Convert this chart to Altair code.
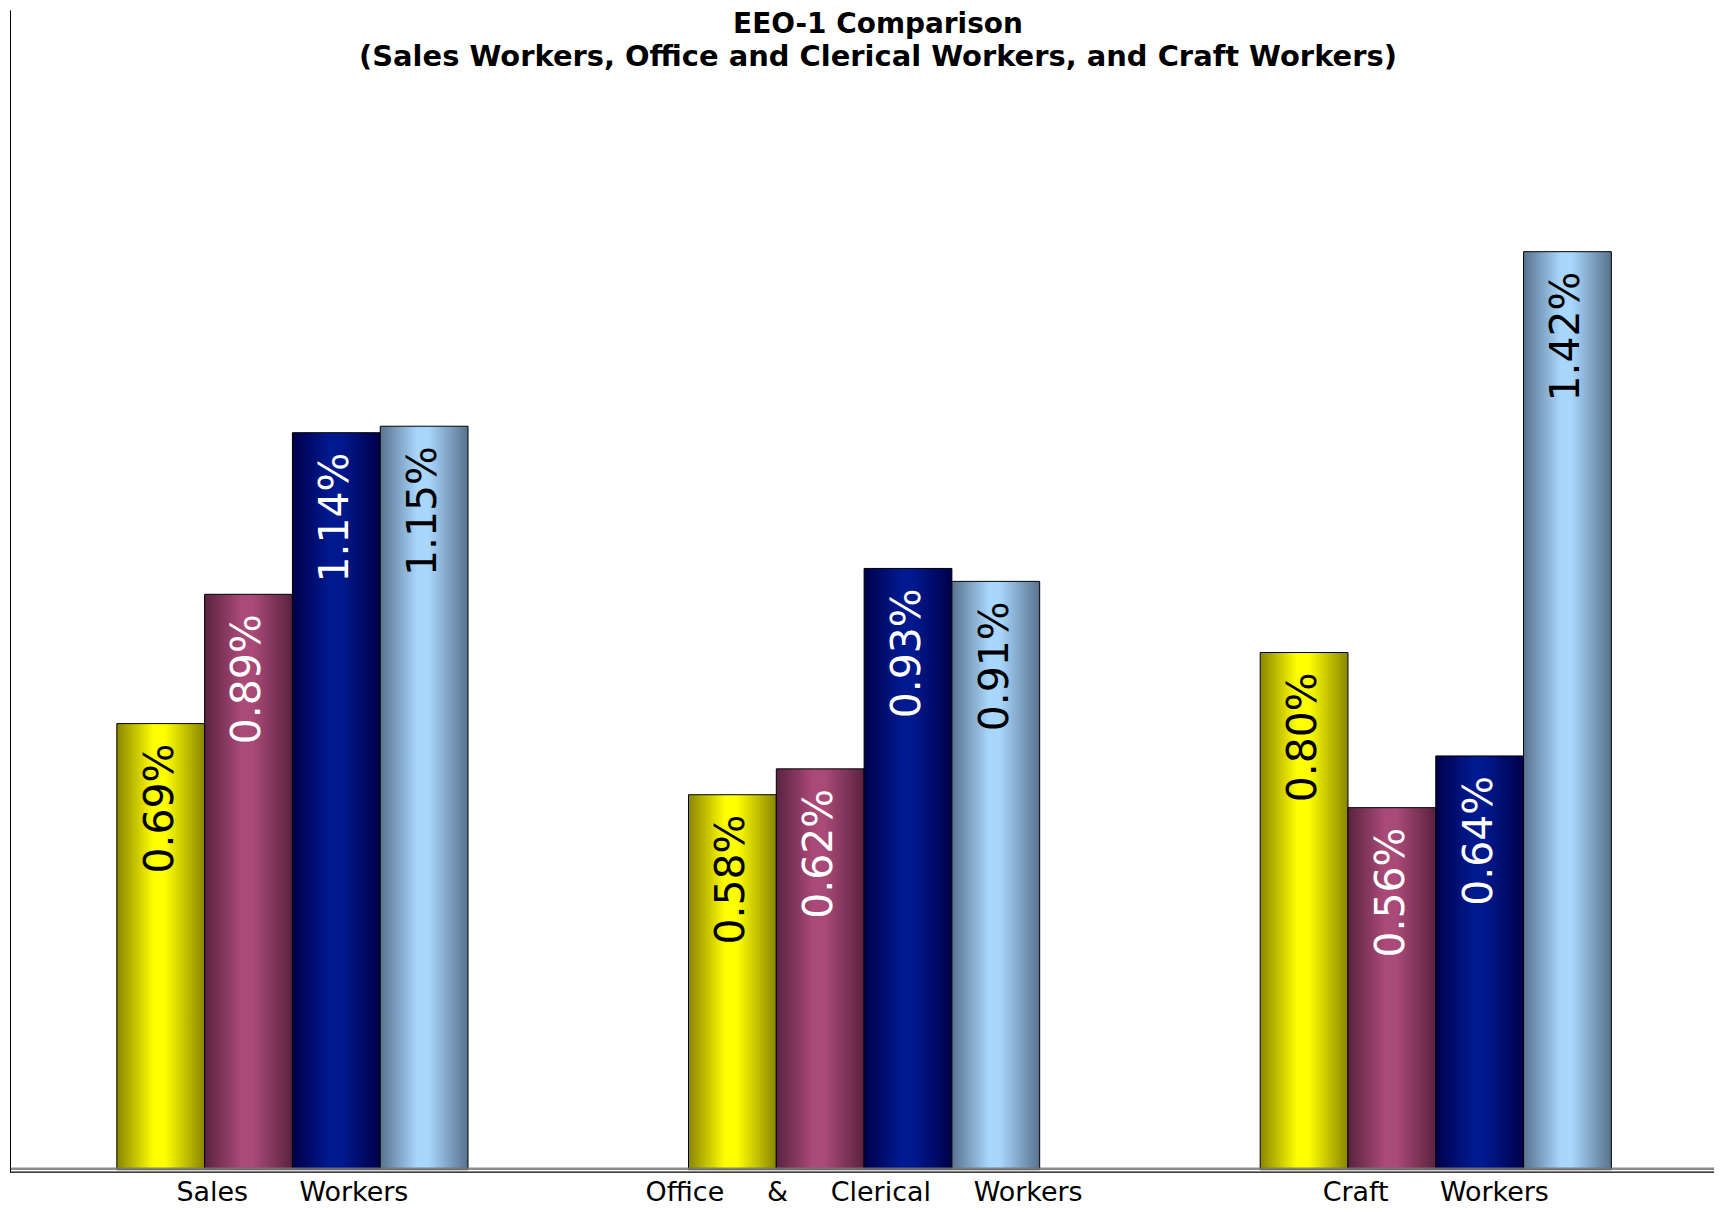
import altair as alt
import pandas as pd

# ---- data ----
categories = ["Sales Workers", "Office & Clerical Workers", "Craft Workers"]
NB = "\u00a0"
axis_labels = ["Sales" + NB * 6 + "Workers",
               "Office" + NB * 5 + "&" + NB * 5 + "Clerical" + NB * 5 + "Workers",
               "Craft" + NB * 6 + "Workers"]
series = ["Series 1", "Series 2", "Series 3", "Series 4"]
sales_values = [0.69, 0.89, 1.14, 1.15]
office_values = [0.58, 0.62, 0.93, 0.91]
craft_values = [0.80, 0.56, 0.64, 1.42]
title_text = "EEO-1 Comparison"
subtitle_text = "(Sales Workers, Office and Clerical Workers, and Craft Workers)"

# styling per series (edge colour, centre colour, label colour)
edge_colors = ["#8a8600", "#5a2240", "#00004a", "#58728e"]
mid_colors = ["#ffff00", "#aa4a78", "#00198f", "#a8d6fc"]
label_colors = ["black", "white", "white", "black"]

rows = []
for lab, vals in zip(axis_labels, [sales_values, office_values, craft_values]):
    for s, v, lc in zip(series, vals, label_colors):
        rows.append({"category": lab, "series": s, "value": v,
                     "label": f"{v:.2f}%", "lcolor": lc})
df = pd.DataFrame(rows)

W = 1708
H = 1162
YMAX = H / 648.0

x_enc = alt.X("category:N", sort=axis_labels, title=None,
              scale=alt.Scale(paddingInner=0.3857, paddingOuter=0.1832, align=0.51),
              axis=alt.Axis(labelAngle=0, labelFont="DejaVu Sans", labelFontSize=27,
                            labelColor="black", domain=False, ticks=False,
                            labelPadding=10, labelLimit=1000))
xo_enc = alt.XOffset("series:N", sort=series,
                     scale=alt.Scale(domain=series, paddingInner=0, paddingOuter=0))
y_enc = alt.Y("value:Q", scale=alt.Scale(domain=[0, YMAX], nice=False, zero=True),
              axis=None)

base = alt.Chart(df)

bar_layers = []
for s, ec, mc in zip(series, edge_colors, mid_colors):
    grad = alt.Gradient(
        gradient="linear",
        stops=[alt.GradientStop(color=ec, offset=0),
               alt.GradientStop(color=mc, offset=0.42),
               alt.GradientStop(color=mc, offset=0.55),
               alt.GradientStop(color=ec, offset=1)],
        x1=0, x2=1, y1=0, y2=0)
    bar_layers.append(
        base.transform_filter(alt.datum.series == s)
        .mark_bar(color=grad, stroke="black", strokeWidth=1)
        .encode(x=x_enc, xOffset=xo_enc, y=y_enc)
    )

labels = base.mark_text(angle=270, align="right", baseline="middle", dx=-20,
                        font="DejaVu Sans", fontSize=41).encode(
    x=x_enc, xOffset=xo_enc, y=y_enc,
    text="label:N",
    color=alt.Color("lcolor:N", scale=None, legend=None),
)

one = alt.Chart(pd.DataFrame({"t": [title_text], "s": [subtitle_text]}))

title = one.mark_text(font="DejaVu Sans", fontWeight="bold", fontSize=28,
                      align="center", baseline="alphabetic", color="black").encode(
    x=alt.value(870), y=alt.value(23), text="t:N")
subtitle = one.mark_text(font="DejaVu Sans", fontWeight="bold", fontSize=29,
                         align="center", baseline="alphabetic", color="black").encode(
    x=alt.value(870), y=alt.value(56), text="s:N")

left_line = one.mark_rule(color="black", strokeWidth=1).encode(
    x=alt.value(0.5), y=alt.value(0), y2=alt.value(H + 3))
bottom_black = one.mark_rule(color="black", strokeWidth=1.2).encode(
    x=alt.value(0), x2=alt.value(W), y=alt.value(H + 2.5))
bottom_gray = one.mark_rule(color="#777777", strokeWidth=2.5, opacity=0.85).encode(
    x=alt.value(0), x2=alt.value(W), y=alt.value(H - 1))

chart = alt.layer(*bar_layers, labels, bottom_gray, bottom_black, left_line,
                  title, subtitle).properties(
    width=W, height=H, padding=0
).configure(background="white", view=alt.ViewConfig(stroke=None))

chart.save("out.html", embed_options={"renderer": "svg", "actions": False})
